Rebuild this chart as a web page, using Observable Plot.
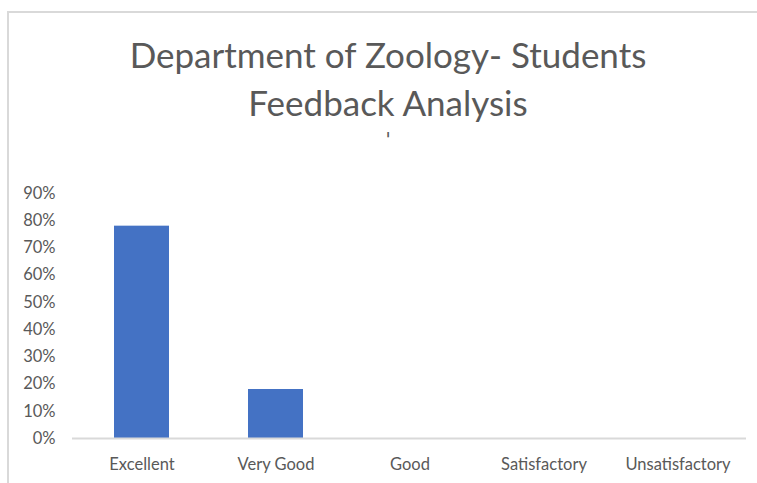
<!DOCTYPE html>
<html>
<head>
<meta charset="utf-8">
<script src="https://cdn.jsdelivr.net/npm/d3@7"></script>
<script src="https://cdn.jsdelivr.net/npm/@observablehq/plot@0.6"></script>
<style>
  html, body { margin: 0; padding: 0; background: #fff; }
  #wrap { position: relative; width: 757px; height: 483px; overflow: hidden; font-family: Lato, "Open Sans", sans-serif; }
  #border { position: absolute; left: 7px; top: 11px; width: 800px; height: 600px; border-left: 2px solid #d9d9d9; border-top: 2px solid #d9d9d9; box-sizing: border-box; }
  #title { position: absolute; left: 0; width: 776px; top: 30px; text-align: center; font-size: 35px; line-height: 48px; color: #595959; }
  #sub { position: absolute; left: 0; width: 776px; top: 128px; text-align: center; font-size: 19px; color: #595959; font-family: "DejaVu Sans", sans-serif; }
  #chart { position: absolute; left: 0; top: 0; }
</style>
</head>
<body>
<div id="wrap">
  <div id="border"></div>
  <div id="chart"></div>
  <div id="title">Department of Zoology- Students<br>Feedback Analysis</div>
  <div id="sub">'</div>
</div>
<script>
const categories = ["Excellent", "Very Good", "Good", "Satisfactory", "Unsatisfactory"];
const percents = [78, 18, 0, 0, 0];
const yTicks = [0, 10, 20, 30, 40, 50, 60, 70, 80, 90];

const data = categories.map((c, i) => ({category: c, value: percents[i]}));

const chart = Plot.plot({
  width: 757,
  height: 483,
  marginLeft: 72,
  marginRight: 11,
  marginTop: 193,
  marginBottom: 45,
  style: {fontFamily: "Lato, 'Open Sans', sans-serif", fontSize: "16.5px", color: "#595959", background: "transparent"},
  x: {domain: categories, paddingInner: 0.59, paddingOuter: 0.295, label: null, tickSize: 0, tickPadding: 20},
  y: {domain: [0, 90], ticks: yTicks, tickFormat: d => d + "%", label: null, tickSize: 0, tickPadding: 17},
  marks: [
    Plot.barY(data, {x: "category", y: "value", fill: "#4472c4"}),
    Plot.ruleY([0], {stroke: "#d9d9d9", strokeWidth: 2})
  ]
});
document.getElementById("chart").appendChild(chart);
</script>
</body>
</html>
